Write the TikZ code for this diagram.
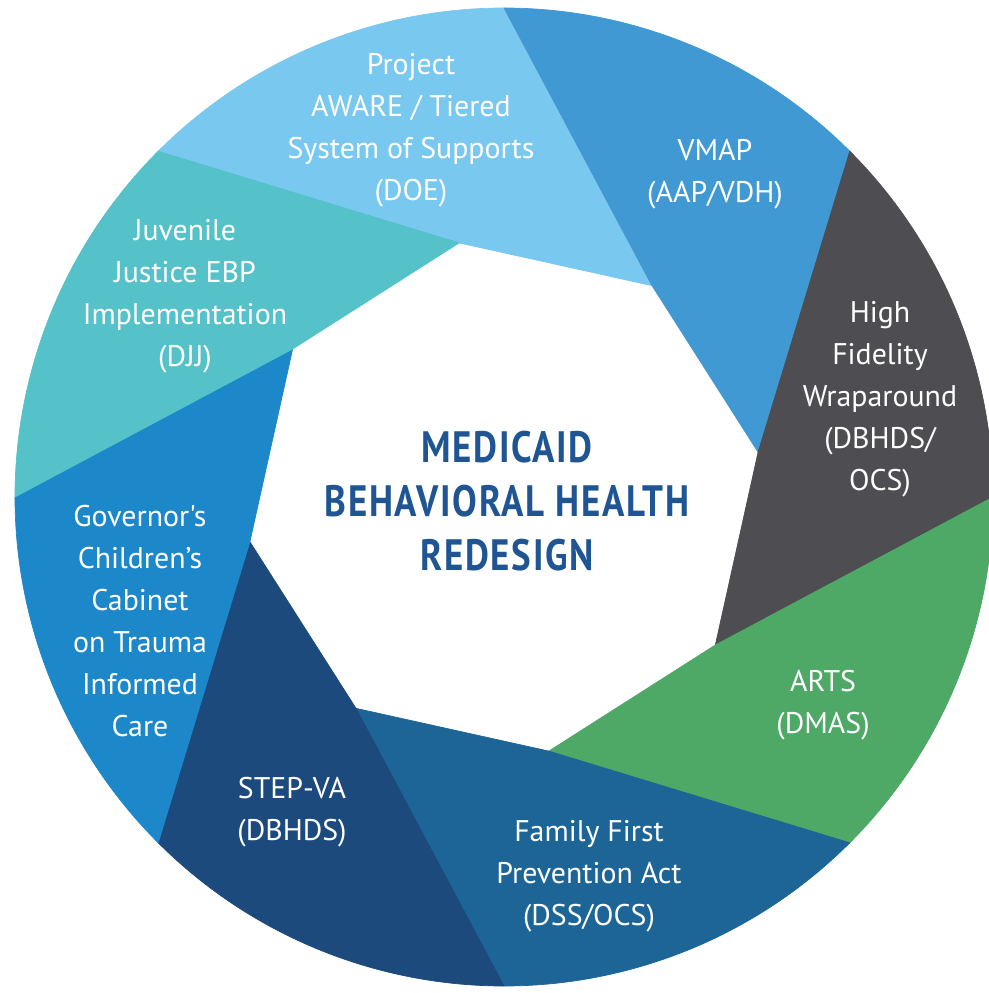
\documentclass[tikz,border=0pt]{standalone}
\usepackage{fontspec}
\usepackage{tikz}
\newfontfamily\labelfont{PT Sans}
\newfontfamily\headfont[FakeStretch=0.84,LetterSpace=4]{PT Sans}

\definecolor{aware}{HTML}{78C8F0}
\definecolor{vmap}{HTML}{4099D2}
\definecolor{hfw}{HTML}{4D4D52}
\definecolor{arts}{HTML}{4EA866}
\definecolor{ffpa}{HTML}{1D6596}
\definecolor{stepva}{HTML}{1C4A7C}
\definecolor{gcc}{HTML}{1C88C9}
\definecolor{djj}{HTML}{55C1C9}
\definecolor{headblue}{HTML}{1F5592}

\def\outR{9.78}
\def\inR{5.16}
% one blade of the ring: outer arc from #2+45 down to #2, inner edge on the octagon
\def\blade[#1](#2){\filldraw[fill=#1, draw=#1, line width=0.4pt, line join=round] (#2+45:\outR) arc (#2+45:#2:\outR) -- (#2-35:\inR) -- (#2+10:\inR) -- cycle;}

\tikzset{
  lbl/.style={text=white, align=center, font=\labelfont\fontsize{17}{23.9}\selectfont},
  head/.style={text=headblue, align=center, font=\headfont\bfseries\fontsize{25}{30.7}\selectfont}
}

\begin{document}
\begin{tikzpicture}
			%%%%% START %%%%%
			\clip (-10.08, -9.92) rectangle (9.70, 9.94);
			
			\blade[aware](90);
			\blade[vmap](45);
			\blade[hfw](0);
			\blade[arts](-45);
			\blade[ffpa](-90);
			\blade[stepva](-135);
			\blade[gcc](-180);
			\blade[djj](135);
			
			\node[lbl] (aware) at (-1.86, 7.34) {Project\\AWARE / Tiered\\System of Supports\\(DOE)};
			\node[lbl] (vmap) at (4.22, 6.45) {VMAP\\(AAP/VDH)};
			\node[lbl] (hfw) at (7.52, 1.96) {High\\Fidelity\\Wraparound\\(DBHDS/\\OCS)};
			\node[lbl] (arts) at (6.38, -4.16) {ARTS\\(DMAS)};
			\node[lbl] (ffpa) at (1.70, -7.58) {Family First\\Prevention Act\\(DSS/OCS)};
			\node[lbl] (stepva) at (-4.24, -6.30) {STEP-VA\\(DBHDS)};
			\node[lbl] (gcc) at (-7.28, -2.48) {Governor's\\Children’s\\Cabinet\\on Trauma\\Informed\\Care};
			\node[lbl] (djj) at (-6.38, 4.02) {Juvenile\\Justice EBP\\Implementation\\(DJJ)};
			
			\node[head] (mbhr) at (0.06, -0.08) {MEDICAID\\BEHAVIORAL HEALTH\\REDESIGN};
			%%%%% END %%%%%
\end{tikzpicture}
\end{document}
